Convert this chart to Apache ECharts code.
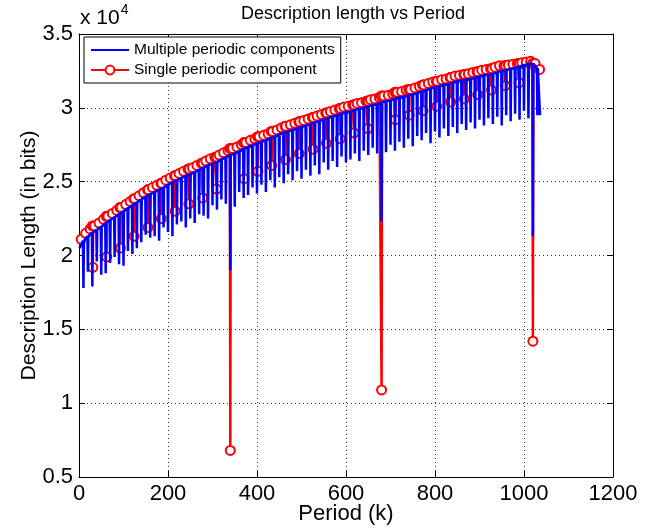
<!DOCTYPE html>
<html>
<head>
<meta charset="utf-8">
<script src="https://cdn.jsdelivr.net/npm/echarts@6/dist/echarts.min.js"></script>
<style>html,body{margin:0;padding:0;background:#fff}#c{width:660px;height:532px}</style>
</head>
<body>
<div id="c"></div>
<script>
// ---- data ----
const xTicks = [0, 200, 400, 600, 800, 1000, 1200];
const yTicks = [5000, 10000, 15000, 20000, 25000, 30000, 35000];

// Blue: "Multiple periodic components" - spike positions, top level, spike bottoms
const spikeK = [10,20,30,40,50,60,70,80,90,100,110,120,130,140,150,160,170,180,190,200,
  210,220,230,240,250,260,270,280,290,300,310,320,330,340,350,360,370,380,390,400,
  410,420,430,440,450,460,470,480,490,500,510,520,530,540,550,560,570,580,590,600,
  610,620,630,640,650,660,670,680,690,700,710,720,730,740,750,760,770,780,790,800,
  810,820,830,840,850,860,870,880,890,900,910,920,930,940,950,960,970,980,990,1000,
  1010,1020,1030];
const blueTop = [21000,21300,21550,21750,21950,22200,22400,22600,22800,23000,23200,23400,23600,23800,24000,24150,24300,24450,24600,24800,
  24950,25100,25250,25400,25500,25650,25800,25950,26100,26200,26350,26500,26650,26800,26900,27050,27200,27350,27450,27600,
  27700,27800,27950,28050,28200,28300,28400,28500,28600,28700,28800,28900,29000,29100,29200,29300,29400,29500,29600,29700,
  29750,29850,29950,30000,30100,30200,30250,30350,30450,30500,30600,30700,30750,30850,30900,31000,31100,31200,31300,31400,
  31450,31550,31600,31700,31800,31850,31900,31950,32050,32100,32200,32250,32300,32400,32500,32550,32650,32700,32800,32900,
  32950,33000,32700];
const blueDip = [17800,18900,17900,19600,18700,18800,19500,19900,19400,19300,20300,20100,20500,20900,21400,21200,21300,21000,21900,21600,
  21300,22100,22300,21900,22500,22200,22800,22700,22500,23400,23100,23800,23500,19000,23300,24300,23900,24100,24600,24200,
  24800,24300,25100,24600,25300,24900,25500,25100,25700,25200,25800,25400,26100,25500,26300,25800,26400,26000,26700,26300,
  26500,26900,26400,27100,26800,27300,26900,22300,27000,27500,27100,27700,27300,27900,27400,28100,27800,28300,27600,28400,
  28000,28600,28100,28700,28300,28900,28500,29000,28600,29200,28800,29300,28900,29400,28800,29500,29100,29600,29200,29800,
  29300,21300,29500];
const blueStart = [1, 20500];
const blueEnd = [1036, 29500];

// Red: "Single periodic component" - top level samples and dips
const redK = [5,15,25,35,45,55,65,75,85,95,105,115,125,135,145,155,165,175,185,195,
  205,215,225,235,245,255,265,275,285,295,305,315,325,335,345,355,365,375,385,395,
  405,415,425,435,445,455,465,475,485,495,505,515,525,535,545,555,565,575,585,595,
  605,615,625,635,645,655,665,675,685,695,705,715,725,735,745,755,765,775,785,795,
  805,815,825,835,845,855,865,875,885,895,905,915,925,935,945,955,965,975,985,995,
  1005,1015,1025,1035];
const redTop = [21100,21500,21800,22000,22200,22450,22650,22850,23050,23250,23450,23650,23850,24050,24250,24450,24600,24750,24900,25100,
  25250,25400,25550,25700,25850,25950,26100,26250,26400,26550,26650,26800,26950,27100,27250,27350,27500,27650,27800,27900,
  28050,28150,28250,28400,28500,28650,28750,28850,28950,29050,29150,29250,29350,29450,29550,29650,29750,29850,29950,30050,
  30100,30200,30300,30350,30450,30550,30600,30700,30800,30850,30950,31050,31100,31200,31250,31350,31450,31550,31650,31750,
  31800,31900,31950,32050,32150,32200,32250,32300,32400,32450,32550,32600,32650,32750,32850,32850,32900,32950,33000,33050,
  33100,33150,33000,32600];
const redDipK = [31,62,93,124,155,185,216,247,278,309,340,371,402,433,464,495,526,556,587,618,649,680,711,742,773,804,835,866,896,927,958,989,1020];
const redDip = [19200,19900,20500,21300,21900,22500,23000,23500,23900,24500,6800,25200,25700,26100,26500,26900,27200,27600,27900,28300,28600,10900,29200,29500,29800,30100,30400,30600,30900,31200,31500,31700,14200];

// ---- build series data ----
const blueData = [blueStart];
spikeK.forEach((k, i) => {
  blueData.push([k - 1, blueTop[i]], [k, blueDip[i]], [k + 1, blueTop[i]]);
});
blueData.push(blueEnd);

const redPts = redK.map((k, i) => [k, redTop[i]]);
redDipK.forEach((k, i) => {
  let j = Math.min(redK.length - 1, Math.max(0, Math.round((k - 5) / 10)));
  const top = redTop[j];
  redPts.push([k - 1, top], [k, redDip[i]], [k + 1, top]);
});
redPts.sort((a, b) => a[0] - b[0]);

const FONT = 'Liberation Sans, Arial, Helvetica, sans-serif';
const chart = echarts.init(document.getElementById('c'), null, {renderer: 'canvas'});
const gridDot = {show: true, lineStyle: {color: '#333', width: 1, type: [1, 3]}};

chart.setOption({
  animation: false,
  backgroundColor: '#fff',
  textStyle: {fontFamily: FONT},
  title: {
    text: 'Description length vs Period',
    left: 348, top: 0, textAlign: 'center',
    textStyle: {fontFamily: FONT, fontSize: 18, fontWeight: 'normal', color: '#000'}
  },
  graphic: [{
    type: 'text', left: 80, top: 3,
    style: {
      text: '{a|x 10}{b|4}',
      rich: {
        a: {fontFamily: FONT, fontSize: 21, fill: '#000', verticalAlign: 'bottom'},
        b: {fontFamily: FONT, fontSize: 14, fill: '#000', verticalAlign: 'top', padding: [0, 0, 12, 1]}
      }
    }
  }],
  grid: {left: 79, right: 47, top: 34, bottom: 55, show: false, containLabel: false, outerBoundsMode: 'none'},
  legend: {
    data: [
      {name: 'Multiple periodic components', itemStyle: {opacity: 0}},
      {name: 'Single periodic component'}
    ],
    orient: 'vertical', left: 84, top: 37,
    backgroundColor: '#fff', borderColor: '#000', borderWidth: 1,
    padding: [5, 6, 5, 6], itemGap: 4, itemWidth: 38, itemHeight: 11,
    textStyle: {fontFamily: FONT, fontSize: 15.5, color: '#000'}
  },
  xAxis: [{
    type: 'value', min: 0, max: 1200, interval: 200,
    name: 'Period (k)', nameLocation: 'middle', nameGap: 26, nameMoveOverlap: false,
    nameTextStyle: {fontFamily: FONT, fontSize: 22, color: '#000'},
    axisLine: {show: true, onZero: false, lineStyle: {color: '#000', width: 1}},
    axisTick: {show: true, inside: true, length: 6, lineStyle: {color: '#000'}},
    axisLabel: {fontFamily: FONT, fontSize: 22, color: '#000', margin: 6,
      formatter: v => String(v)},
    splitLine: gridDot
  }, {
    type: 'value', min: 0, max: 1200, interval: 200, position: 'top',
    axisLine: {show: true, onZero: false, lineStyle: {color: '#000', width: 1}},
    axisTick: {show: true, inside: true, length: 6, lineStyle: {color: '#000'}},
    axisLabel: {show: false}, splitLine: {show: false}
  }],
  yAxis: [{
    type: 'value', min: 5000, max: 35000, interval: 5000,
    name: 'Description Length (in bits)', nameLocation: 'middle', nameGap: 39, nameMoveOverlap: false,
    nameTextStyle: {fontFamily: FONT, fontSize: 21, color: '#000'},
    axisLine: {show: true, onZero: false, lineStyle: {color: '#000', width: 1}},
    axisTick: {show: true, inside: true, length: 6, lineStyle: {color: '#000'}},
    axisLabel: {fontFamily: FONT, fontSize: 22, color: '#000', margin: 6,
      formatter: v => String(v / 10000)},
    splitLine: gridDot
  }, {
    type: 'value', min: 5000, max: 35000, interval: 5000, position: 'right',
    axisLine: {show: true, onZero: false, lineStyle: {color: '#000', width: 1}},
    axisTick: {show: true, inside: true, length: 6, lineStyle: {color: '#000'}},
    axisLabel: {show: false}, splitLine: {show: false}
  }],
  series: [{
    name: 'Multiple periodic components', type: 'line', data: blueData,
    xAxisIndex: 0, yAxisIndex: 0, z: 3,
    symbol: 'none', showSymbol: false,
    lineStyle: {color: '#0000ff', width: 2.5}, itemStyle: {color: '#0000ff'}
  }, {
    name: 'Single periodic component', type: 'line', data: redPts,
    xAxisIndex: 0, yAxisIndex: 0, z: 2,
    symbol: 'emptyCircle', symbolSize: 9, showSymbol: true, showAllSymbol: true,
    lineStyle: {color: '#ff0000', width: 2.5},
    itemStyle: {color: '#ff0000', borderColor: '#ff0000', borderWidth: 2}
  }]
});
</script>
</body>
</html>
